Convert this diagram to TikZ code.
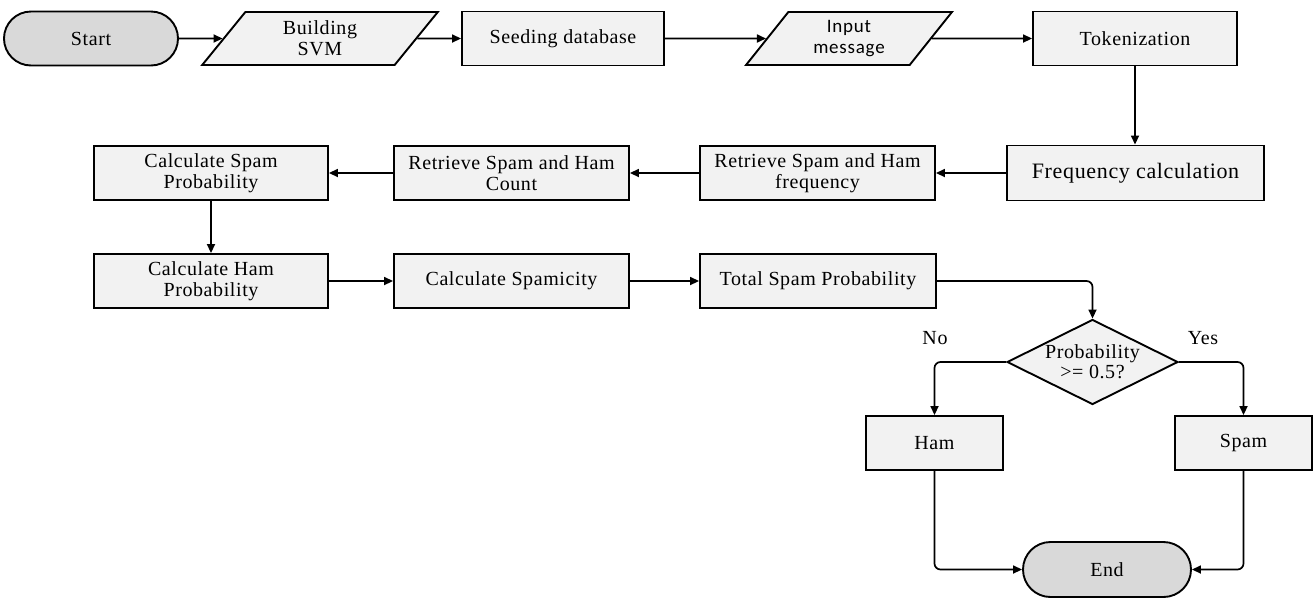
\documentclass[tikz,border=0pt]{standalone}
\usepackage{fontspec}
\setmainfont{Liberation Serif}[LetterSpace=3]
\newfontfamily\calibri{Carlito}[LetterSpace=4]
\usetikzlibrary{shapes.geometric,shapes.misc,arrows.meta}
\definecolor{boxfill}{HTML}{F2F2F2}
\definecolor{termfill}{HTML}{D9D9D9}
\begin{document}
\begin{tikzpicture}[x=1pt,y=-1pt,
  every node/.style={font=\fontsize{20}{21}\selectfont, align=center, inner sep=2pt},
  boxs/.style={draw, fill=boxfill, rectangle, line width=1.9pt, minimum height=54pt},
  term/.style={draw, fill=termfill, rounded rectangle, line width=1.9pt, minimum height=54pt},
  iobox/.style={draw, fill=boxfill, trapezium, trapezium left angle=60, trapezium right angle=120, trapezium stretches=true, line width=1.9pt, minimum height=53pt},
  dec/.style={draw, fill=boxfill, diamond, line width=1.9pt, inner sep=0pt},
  conn/.style={line width=1.7pt, -{Triangle[length=9pt,width=8pt]}},
  elbow/.style={conn, rounded corners=6pt},
  lbl/.style={font=\fontsize{20}{20}\selectfont}]
\useasboundingbox (0,0) rectangle (1314,598);
\node[term, minimum width=178pt] (start) at (91,38.5) {Start};
\node[iobox, minimum width=236pt] (svm) at (320,38.5) {Building\\SVM};
\node[boxs, minimum width=202pt] (seed) at (563,38.5) {Seeding database};
\node[iobox, minimum width=206pt, trapezium left angle=57, trapezium right angle=123, font=\calibri\fontsize{19}{21}\selectfont] (input) at (849,38.5) {Input\\message};
\node[boxs, minimum width=204pt] (tok) at (1135,38.5) {Tokenization};
\node[boxs, minimum width=257pt, minimum height=55pt, font=\fontsize{22}{24}\selectfont] (freq) at (1135.5,173) {Frequency calculation};
\node[boxs, minimum width=235pt] (rfreq) at (817.5,173) {Retrieve Spam and Ham\\frequency};
\node[boxs, minimum width=235pt] (rcount) at (511.5,173) {Retrieve Spam and Ham\\Count};
\node[boxs, minimum width=234pt] (cspam) at (211,173) {Calculate Spam\\Probability};
\node[boxs, minimum width=234pt] (cham) at (211,281) {Calculate Ham\\Probability};
\node[boxs, minimum width=235pt] (spamicity) at (511.5,281) {Calculate Spamicity};
\node[boxs, minimum width=236pt] (total) at (818,281) {Total Spam Probability};
\node[dec, minimum width=171pt, minimum height=85pt, label={[lbl, align=center]center:{Probability\\>= 0.5?}}] (dec) at (1092.5,362) {};
\node[lbl] (no) at (935,338) {No};
\node[lbl] (yes) at (1203,338) {Yes};
\node[boxs, minimum width=137pt] (ham) at (934.5,443) {Ham};
\node[boxs, minimum width=137pt] (spam) at (1243.5,443) {Spam};
\node[term, minimum width=172pt, minimum height=55pt] (end) at (1107,569.5) {End};
\draw[conn] (start) -- (svm);
\draw[conn] (svm) -- (seed);
\draw[conn] (seed) -- (input);
\draw[conn] (input) -- (tok);
\draw[conn] (tok.south) -- (tok.south |- freq.north);
\draw[conn] (freq) -- (rfreq);
\draw[conn] (rfreq) -- (rcount);
\draw[conn] (rcount) -- (cspam);
\draw[conn] (cspam) -- (cham);
\draw[conn] (cham) -- (spamicity);
\draw[conn] (spamicity) -- (total);
\draw[elbow] (total.east) -| (dec.north);
\draw[elbow] (dec.west) -| (ham.north);
\draw[elbow] (dec.east) -| (spam.north);
\draw[elbow] (ham.south) |- (end.west);
\draw[elbow] (spam.south) |- (end.east);
\end{tikzpicture}
\end{document}
